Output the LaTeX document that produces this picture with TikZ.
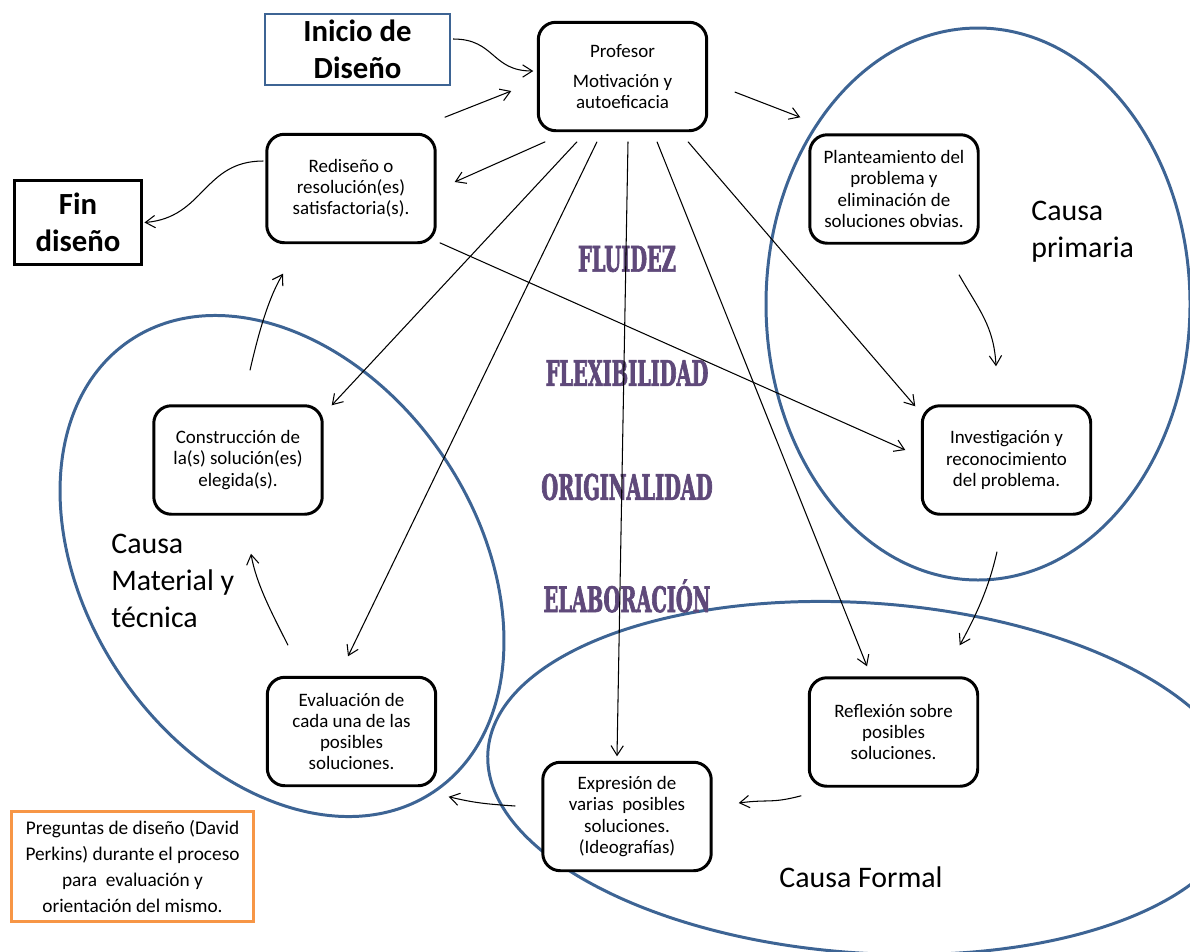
\documentclass[tikz,border=0pt]{standalone}
\usepackage{fontspec}
\setmainfont{Carlito}
\newfontfamily\stencilfont[FakeStretch=0.55, FakeBold=1.8]{DejaVu Serif Bold}
\usetikzlibrary{arrows.meta, positioning}

\definecolor{causeblue}{HTML}{3D6494}
\definecolor{wordpurple}{HTML}{5F497A}
\definecolor{noteorange}{HTML}{F79646}

\tikzset{
	stage/.style={draw, line width=1.7pt, rounded corners=10pt, fill=white, minimum width=3.37cm, minimum height=2.17cm, align=center, inner sep=2pt, font=\fontsize{10.8}{12}\selectfont},
	endbox/.style={draw, line width=1.7pt, align=center, font=\fontsize{17.5}{21}\selectfont\bfseries},
	cause/.style={draw=causeblue, line width=1.7pt},
	causelabel/.style={align=left, inner sep=0pt, font=\fontsize{17}{21}\selectfont},
	skill/.style={text=wordpurple, inner sep=0pt, font=\fontsize{20}{24}\stencilfont},
	conn/.style={line width=0.6pt, -{Straight Barb[length=5.5pt, width=7pt]}},
}

\begin{document}
\begin{tikzpicture}[x=0.02cm, y=-0.02cm]
	\useasboundingbox (0,0) rectangle (1190,951);
	\clip (0,0) rectangle (1190,951);

	% causas
	\draw[cause] (978,304) ellipse [x radius=212, y radius=276];
	\draw[cause, rotate around={-56:(282,566)}] (282,566) ellipse [x radius=272, y radius=195];
	\draw[cause, rotate around={-4:(865,778)}] (865,778) ellipse [x radius=378, y radius=175];

	\node[skill] (fluidez) at (627,259) {FLUIDEZ};
	\node[skill] (flexib) at (627,373) {FLEXIBILIDAD};
	\node[skill] (origin) at (627,487) {ORIGINALIDAD};
	\node[skill] (elabor) at (627,596) {ELABORACIÓN};

	\node[causelabel, anchor=west] (primaria) at (1031,232) {Causa\\primaria};
	\node[causelabel, anchor=west] (material) at (111,581) {Causa\\Material y\\técnica};
	\node[causelabel] (formal) at (861,877) {Causa Formal};

	% etapas
	\node[stage] (prof) at (622.5,76.5) {Profesor\\[5pt]Motivación y\\autoeficacia};
	\node[stage] (redis) at (351,188.5) {Rediseño o\\resolución(es)\\satisfactoria(s).};
	\node[stage] (plant) at (894,189) {Planteamiento del\\problema y\\eliminación de\\soluciones obvias.};
	\node[stage] (invest) at (1006.5,460) {Investigación y\\reconocimiento\\del problema.};
	\node[stage] (constr) at (238,460) {Construcción de\\la(s) solución(es)\\elegida(s).};
	\node[stage] (evalua) at (351.5,731.5) {Evaluación de\\cada una de las\\posibles\\soluciones.};
	\node[stage] (reflex) at (893.5,732) {Reflexión sobre\\posibles\\soluciones.};
	\node[stage] (expres) at (627,816.5) {Expresión de\\varias\ \ posibles\\soluciones.\\(Ideografías)};

	\node[endbox, draw=causeblue, line width=1.4pt, minimum width=3.7cm, minimum height=1.42cm] (inicio) at (357.5,49.5) {Inicio de\\Diseño};
	\node[endbox, minimum width=2.54cm, minimum height=1.68cm] (fin) at (78,222.5) {Fin\\diseño};
	\node[draw=noteorange, line width=1.7pt, minimum width=4.84cm, minimum height=2.2cm, align=center, inner sep=0pt, font=\fontsize{11}{14.7}\selectfont] (pregunta) at (132.5,866.5) {Preguntas de diseño (David\\Perkins) durante el proceso\\para\ \ evaluación y\\orientación del mismo.};

	% conexiones
	\draw[conn] ([shift={(2,-10.5)}]inicio.east) .. controls +(42,0) and +(-42,0) .. ([shift={(-3.5,-5.5)}]prof.west);
	\draw[conn] ([shift={(8,-15.5)}]redis.north east) -- ([shift={(-25.5,14.5)}]prof.west);
	\draw[conn] ([shift={(8.5,9.5)}]prof.south west) -- ([shift={(18,-6.5)}]redis.east);
	\draw[conn] ([shift={(26.5,15.5)}]prof.east) -- ([shift={(-8,-16)}]plant.north west);
	\draw[conn] ([shift={(-45.5,9.5)}]prof.south) -- ([shift={(8,1)}]constr.north east);
	\draw[conn] ([shift={(-25.5,9.5)}]prof.south) -- ([shift={(-3.5,-19.5)}]evalua.north);
	\draw[conn] ([shift={(5.5,9.5)}]prof.south) -- ([shift={(-10,-4.5)}]expres.north);
	\draw[conn] ([shift={(34.5,9.5)}]prof.south) -- ([shift={(-26.5,-10)}]reflex.north);
	\draw[conn] ([shift={(65.5,9.5)}]prof.south) -- ([shift={(-5.5,2)}]invest.north west);
	\draw[conn] ([shift={(3,-1.5)}]redis.south east) -- ([shift={(-15.5,-10)}]invest.west);
	\draw[conn] ([shift={(-2,-27.5)}]redis.west) .. controls +(-60,0) and +(60,-5) .. ([shift={(1.5,0)}]fin.east);
	\draw[conn] ([shift={(65,30)}]plant.south) .. controls +(20,35) and +(-2,-40) .. ([shift={(-10.5,-38)}]invest.north);
	\draw[conn] ([shift={(-9.5,36)}]invest.south) .. controls +(-8,35) and +(18,-33) .. ([shift={(-19.5,-31)}]reflex.north east);
	\draw[conn] ([shift={(-6.5,8)}]reflex.south west) .. controls +(-30,8) and +(30,-4) .. ([shift={(26,-13.5)}]expres.east);
	\draw[conn] ([shift={(-26,-10.5)}]expres.west) .. controls +(-30,-2) and +(25,6) .. ([shift={(11.5,9.5)}]evalua.south east);
	\draw[conn] ([shift={(-63.5,-30.5)}]evalua.north) .. controls +(-15,-30) and +(5,30) .. ([shift={(13,38)}]constr.south);
	\draw[conn] ([shift={(12,-34)}]constr.north) .. controls +(8,-35) and +(-15,25) .. ([shift={(-68,29.5)}]redis.south);
\end{tikzpicture}
\end{document}
